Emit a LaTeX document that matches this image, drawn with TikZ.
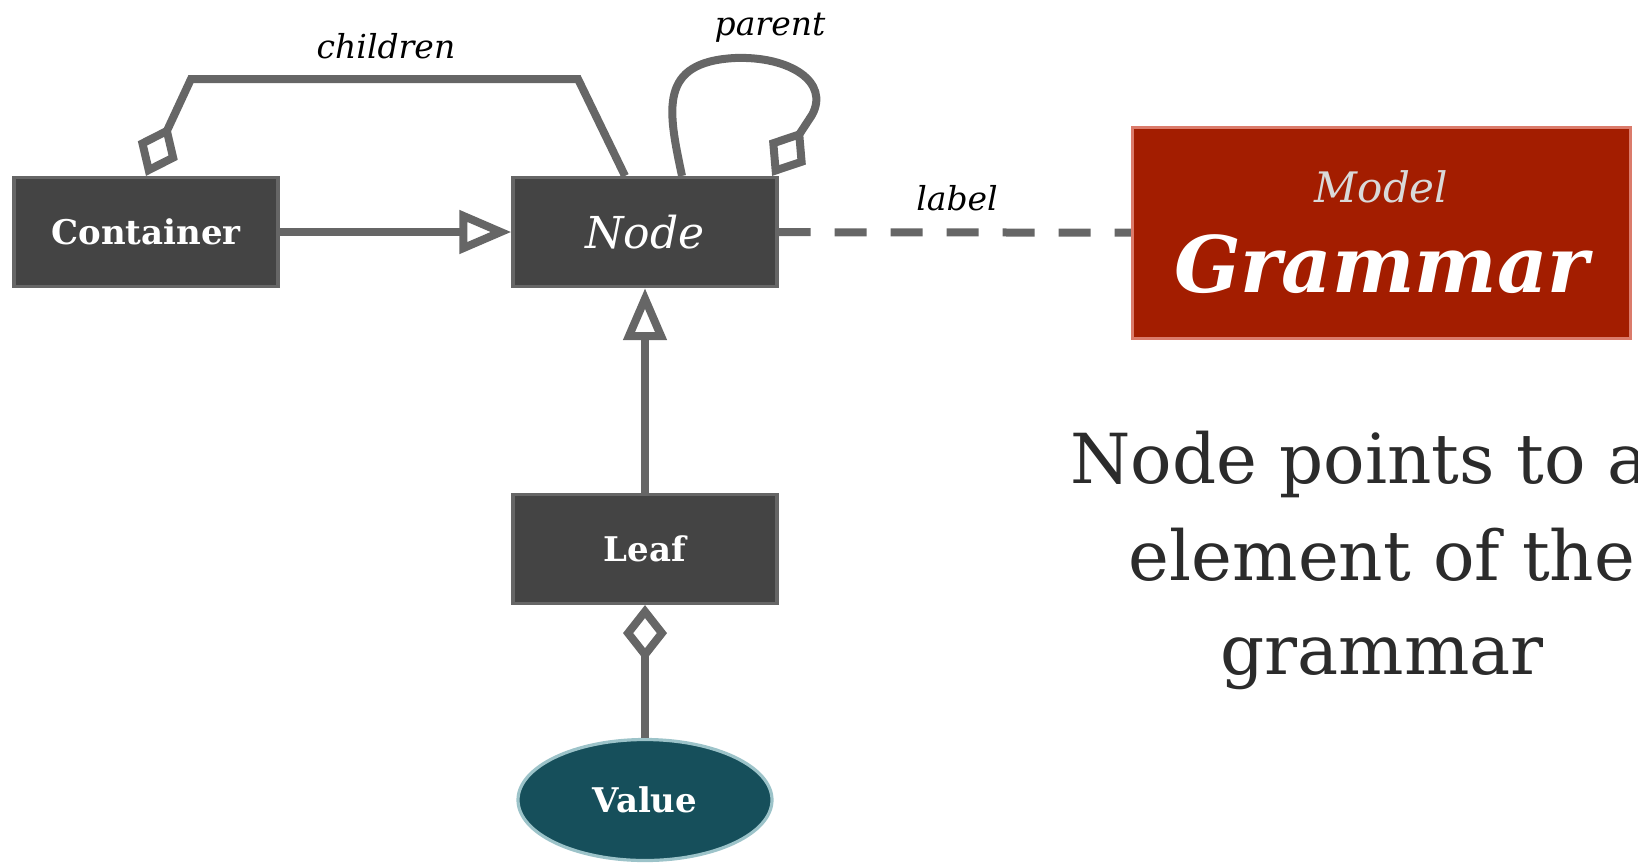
\documentclass[tikz,border=0pt]{standalone}
\usepackage{fontspec}
\setmainfont{DejaVu Serif}
\usetikzlibrary{arrows.meta}
\usetikzlibrary{shapes.geometric}
\usetikzlibrary{positioning}
\definecolor{boxgray}{HTML}{444444}
\definecolor{linegray}{HTML}{666666}
\definecolor{valueteal}{HTML}{164F5B}
\definecolor{valueedge}{HTML}{9CC3C9}
\definecolor{gramred}{HTML}{A31D00}
\definecolor{gramedge}{HTML}{DB7B6B}
\definecolor{modelgray}{HTML}{D9D9D9}
\definecolor{textgray}{HTML}{2B2B2B}
\tikzset{cls/.style = {rectangle, fill = boxgray, draw = linegray, line width = 1.6pt, minimum width = 132pt, minimum height = 54.5pt, inner sep = 0, text = white, font = \fontsize{17}{20}\selectfont\bfseries}}
\tikzset{val/.style = {ellipse, fill = valueteal, draw = valueedge, line width = 1.6pt, minimum width = 127pt, minimum height = 60.5pt, inner sep = 0, text = white, font = \fontsize{17}{20}\selectfont\bfseries}}
\tikzset{gram/.style = {rectangle, fill = gramred, draw = gramedge, line width = 1.6pt, minimum width = 249pt, minimum height = 105.5pt, inner sep = 0}}
\tikzset{conn/.style = {draw = linegray, line width = 4pt}}
\tikzset{gen/.style = {conn, -{Triangle[open, length = 26pt, width = 21pt]}}}
\tikzset{agg/.style = {conn, {Diamond[open, length = 28pt, width = 22pt]}-}}
\tikzset{role/.style = {anchor = base, font = \fontsize{16.5}{19}\selectfont\itshape}}
\tikzset{big/.style = {anchor = base, text = textgray, font = \fontsize{34.5}{48}\selectfont}}

\begin{document}
\begin{tikzpicture}[x = 0.5pt, y = -0.5pt]
      \useasboundingbox (0, 0) rectangle (1638, 863);
      \clip (0, 0) rectangle (1638, 863);
      \node [cls] (container) at (146, 232) {Container};
      \node [cls, font = \fontsize{22}{26}\selectfont\itshape] (nd) at (645, 232) {Node};
      \node [cls] (leaf) at (645, 549) {Leaf};
      \node [val] (value) at (645, 800) {Value};

      \node [gram] (grammar) at (1381.5, 233) {};
      \node [anchor = base, text = modelgray, font = \fontsize{21}{25}\selectfont\itshape] (model) at (1381.5, 202) {Model};
      \node [anchor = base, text = white, font = \fontsize{39}{45}\selectfont\bfseries\itshape] (gname) at (1381.5, 292) {Grammar};

      \draw [gen] (container) -- (nd);
      \draw [gen] (leaf) -- (nd);
      \draw [agg] (leaf) -- (value);
      \draw [agg] (container.north) -- (191, 79) -- (578, 79) -- ([xshift = -10pt] nd.north);
      \draw [agg] ([xshift = -3.25pt] nd.north east) -- (812, 115)
        .. controls (830, 82) and (790, 56) .. (735, 58)
        .. controls (658, 62) and (668, 110) .. ([xshift = 18.5pt] nd.north);
      \draw [conn, dash pattern = on 16pt off 12pt] (nd) -- (grammar);

      \node [role] (children) at (386, 58) {children};
      \node [role] (parent) at (770, 35) {parent};
      \node [role] (lbl) at (957, 210) {label};

      \node [big] (txta) at (1382, 483) {Node points to an};
      \node [big] (txtb) at (1382, 580) {element of the};
      \node [big] (txtc) at (1382, 674) {grammar};
    \end{tikzpicture}
\end{document}
